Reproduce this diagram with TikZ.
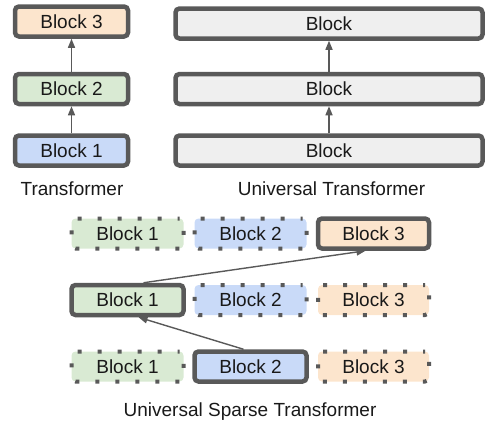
\documentclass[tikz,border=0pt]{standalone}
\usepackage{fontspec}
\setmainfont{Liberation Sans}
\usetikzlibrary{arrows.meta}
\definecolor{edge}{HTML}{595959}
\definecolor{peach}{HTML}{FCE5CD}
\definecolor{mint}{HTML}{D9EAD3}
\definecolor{sky}{HTML}{C9DAF8}
\definecolor{pale}{HTML}{EFEFEF}
\tikzset{
  blk/.style={rounded corners=4pt, minimum height=30pt, inner sep=0pt,
    font=\fontsize{19pt}{21pt}\selectfont, text=black!90},
  solidblk/.style={blk, draw=edge, line width=4.5pt},
  dotblk/.style={blk, draw=edge, line width=4pt, dash pattern=on 4pt off 16pt, dash phase=2pt},
  arr/.style={draw=edge, line width=1.4pt, -{Triangle[length=9pt,width=7pt]}},
  caption/.style={font=\fontsize{19pt}{21pt}\selectfont, text=black!90}
}
\begin{document}
\begin{tikzpicture}[x=1pt,y=-1pt]
\useasboundingbox (0,0) rectangle (486,426);

% Transformer: three distinct stacked blocks
\node[solidblk, fill=peach, minimum width=113pt] (t3) at (71.5,21.5) {Block 3};
\node[solidblk, fill=mint,  minimum width=113pt] (t2) at (71.5,89) {Block 2};
\node[solidblk, fill=sky,   minimum width=113pt] (t1) at (71.5,150.5) {Block 1};
\draw[arr] (t1) -- (t2);
\draw[arr] (t2) -- (t3);
\node[caption] (tlab) at (72,189) {Transformer};

% Universal Transformer: one shared block applied repeatedly
\node[solidblk, fill=pale, minimum width=307pt] (u3) at (329,23.5) {Block};
\node[solidblk, fill=pale, minimum width=307pt] (u2) at (329,89) {Block};
\node[solidblk, fill=pale, minimum width=307pt] (u1) at (329,150.5) {Block};
\draw[arr] (u1) -- (u2);
\draw[arr] (u2) -- (u3);
\node[caption] (ulab) at (331.5,189) {Universal Transformer};

% Universal Sparse Transformer: one active block per step
\node[dotblk,   fill=mint, minimum width=112pt] (a1) at (127.5,233.5) {Block 1};
\node[dotblk,   fill=sky,  minimum width=112pt] (a2) at (250.5,233.5) {Block 2};
\node[solidblk, fill=peach,minimum width=111pt] (a3) at (373.5,233.5) {Block 3};

\node[solidblk, fill=mint, minimum width=112pt] (b1) at (127.5,300) {Block 1};
\node[dotblk,   fill=sky,  minimum width=112pt] (b2) at (250.5,300) {Block 2};
\node[dotblk,   fill=peach,minimum width=111pt] (b3) at (373.5,300) {Block 3};

\node[dotblk,   fill=mint, minimum width=112pt] (c1) at (127.5,366.5) {Block 1};
\node[solidblk, fill=sky,  minimum width=112pt] (c2) at (250.5,366.5) {Block 2};
\node[dotblk,   fill=peach,minimum width=111pt] (c3) at (373.5,366.5) {Block 3};

\draw[arr] ([xshift=-7pt]c2.north) -- ([xshift=11pt]b1.south);
\draw[arr] ([xshift=16pt]b1.north) -- ([xshift=-8pt]a3.south);
\node[caption] (slab) at (250,412) {Universal Sparse Transformer};
\end{tikzpicture}
\end{document}
